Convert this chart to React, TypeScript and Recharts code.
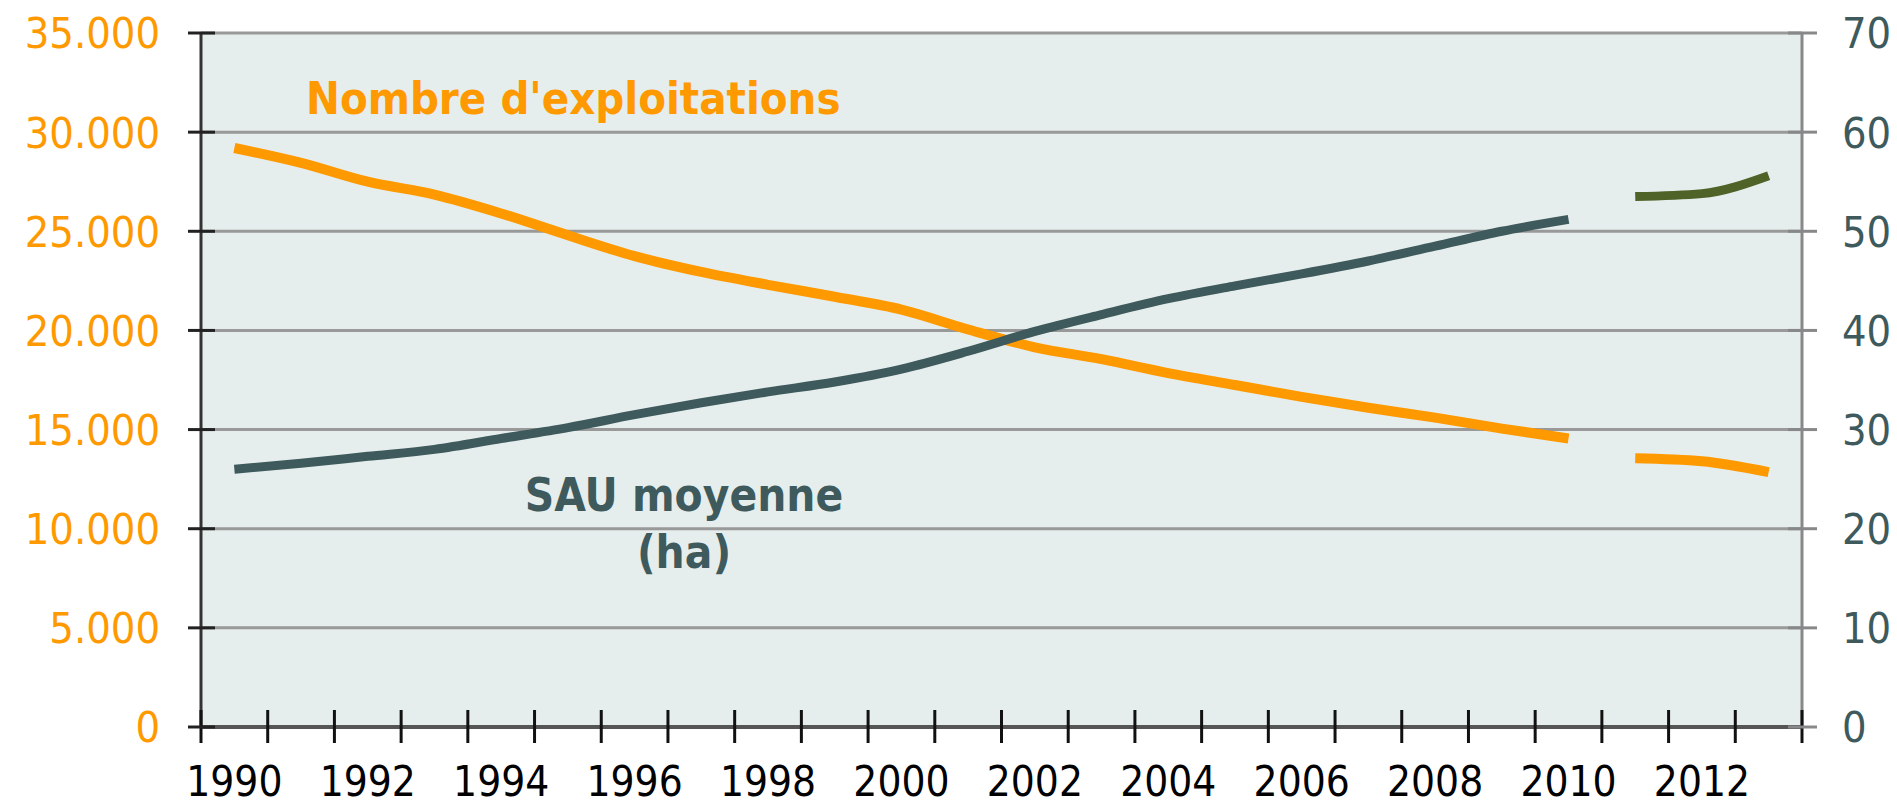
import React from "react";
import { LineChart, Line, XAxis, YAxis, CartesianGrid, Customized } from "recharts";

document.body.style.margin = "0";

const years = [
  "1990", "1991", "1992", "1993", "1994", "1995", "1996", "1997",
  "1998", "1999", "2000", "2001", "2002", "2003", "2004", "2005",
  "2006", "2007", "2008", "2009", "2010", "2011", "2012", "2013",
];
// Nombre d'exploitations (left axis)
const exploitations = [
  29200, 28450, 27500, 26850, 25900, 24800, 23750, 22950,
  22300, 21700, 21050, 20050, 19150, 18550, 17850, 17250,
  16650, 16100, 15600, 15050, 14550, 13550, 13400, 12850,
];
// SAU moyenne en ha (right axis)
const sauMoyenne = [
  26.0, 26.6, 27.3, 28.0, 29.1, 30.2, 31.5, 32.7,
  33.8, 34.8, 36.1, 37.9, 39.9, 41.6, 43.2, 44.5,
  45.7, 47.0, 48.5, 50.0, 51.2, 53.5, 53.8, 55.6,
];
const firstNewSeriesYear = 2011;
const leftTicks = [0, 5000, 10000, 15000, 20000, 25000, 30000, 35000];
const rightTicks = [0, 10, 20, 30, 40, 50, 60, 70];

const data = years.map((year, i) => {
  const isNew = Number(year) >= firstNewSeriesYear;
  return {
    year,
    expOld: isNew ? null : exploitations[i],
    expNew: isNew ? exploitations[i] : null,
    sauOld: isNew ? null : sauMoyenne[i],
    sauNew: isNew ? sauMoyenne[i] : null,
  };
});

const W = 1897;
const H = 806;
const LEFT_W = 201;
const RIGHT_W = 95;
const HALF_BAND = (W - LEFT_W - RIGHT_W) / years.length / 2;

const FONT = '"DejaVu Sans Condensed", "DejaVu Sans", sans-serif';
const ORANGE = "#ff9900";
const SLATE = "#3e5a5c";
const OLIVE = "#4f6228";

const fmt = (v: number) => String(v).replace(/\B(?=(\d{3})+(?!\d))/g, ".");

function XTick(props: any) {
  const { x, y, payload, index } = props;
  const showLabel = Number(payload.value) % 2 === 0;
  return (
    <g>
      <line x1={x - HALF_BAND} x2={x - HALF_BAND} y1={y - 17} y2={y + 16} stroke="#111" strokeWidth={3} />
      {index === years.length - 1 && (
        <line x1={x + HALF_BAND} x2={x + HALF_BAND} y1={y - 17} y2={y + 16} stroke="#111" strokeWidth={3} />
      )}
      {showLabel && (
        <text x={x} y={y + 69} textAnchor="middle" fontFamily={FONT} fontSize={42} fill="#000">
          {payload.value}
        </text>
      )}
    </g>
  );
}

function LeftTick(props: any) {
  const { x, y, payload } = props;
  return (
    <g>
      <line x1={x - 13} x2={x + 14} y1={y} y2={y} stroke="#222" strokeWidth={3} />
      <text x={x - 41} y={y} dy="0.36em" textAnchor="end" fontFamily={FONT} fontSize={43} fill={ORANGE}>
        {fmt(payload.value)}
      </text>
    </g>
  );
}

function RightTick(props: any) {
  const { x, y, payload } = props;
  return (
    <g>
      <line x1={x - 14} x2={x + 15} y1={y} y2={y} stroke="#888" strokeWidth={3} />
      <text x={x + 40} y={y} dy="0.36em" textAnchor="start" fontFamily={FONT} fontSize={43} fill={SLATE}>
        {payload.value}
      </text>
    </g>
  );
}

function Labels() {
  return (
    <g fontFamily={FONT} fontWeight="bold">
      <text x={306} y={114} fontSize={45} fill={ORANGE}>Nombre d'exploitations</text>
      <text x={684} y={511} fontSize={45.5} fill={SLATE} textAnchor="middle">SAU moyenne</text>
      <text x={684} y={568} fontSize={45.5} fill={SLATE} textAnchor="middle">(ha)</text>
    </g>
  );
}

export default function App() {
  return (
    <div style={{ width: W, height: H, background: "#fff" }}>
      <LineChart width={W} height={H} data={data} margin={{ top: 33, right: 0, bottom: 0, left: 0 }}>
        <CartesianGrid yAxisId="left" vertical={false} stroke="#999" strokeWidth={3} fill="#e6eeed" />
        <XAxis
          dataKey="year"
          height={79}
          interval={0}
          padding={{ left: HALF_BAND, right: HALF_BAND }}
          tickLine={false}
          tickSize={0}
          tickMargin={0}
          axisLine={{ stroke: "#555", strokeWidth: 4 }}
          tick={<XTick />}
        />
        <YAxis
          yAxisId="left"
          width={LEFT_W}
          domain={[0, 35000]}
          ticks={leftTicks}
          interval={0}
          tickLine={false}
          tickSize={0}
          tickMargin={0}
          axisLine={{ stroke: "#333", strokeWidth: 3 }}
          tick={<LeftTick />}
        />
        <YAxis
          yAxisId="right"
          orientation="right"
          width={RIGHT_W}
          domain={[0, 70]}
          ticks={rightTicks}
          interval={0}
          tickLine={false}
          tickSize={0}
          tickMargin={0}
          axisLine={{ stroke: "#888", strokeWidth: 3 }}
          tick={<RightTick />}
        />
        <Line yAxisId="left" dataKey="expOld" type="monotone" stroke={ORANGE} strokeWidth={10} dot={false} activeDot={false} isAnimationActive={false} />
        <Line yAxisId="left" dataKey="expNew" type="monotone" stroke={ORANGE} strokeWidth={10} dot={false} activeDot={false} isAnimationActive={false} />
        <Line yAxisId="right" dataKey="sauOld" type="monotone" stroke={SLATE} strokeWidth={9} dot={false} activeDot={false} isAnimationActive={false} />
        <Line yAxisId="right" dataKey="sauNew" type="monotone" stroke={OLIVE} strokeWidth={9} dot={false} activeDot={false} isAnimationActive={false} />
        <Customized component={Labels} />
      </LineChart>
    </div>
  );
}
